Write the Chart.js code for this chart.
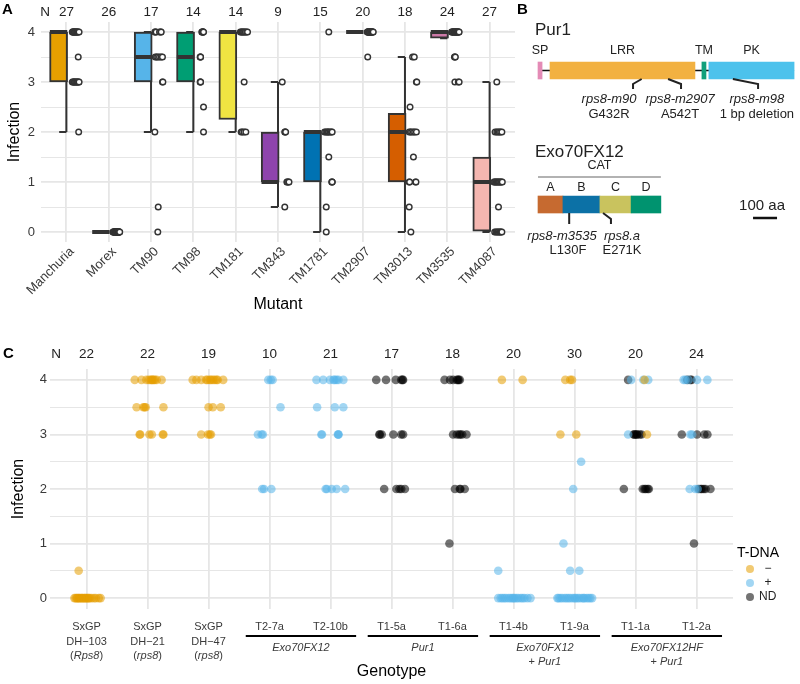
<!DOCTYPE html>
<html>
<head>
<meta charset="utf-8">
<script src="https://cdn.jsdelivr.net/npm/chart.js@4.4.0/dist/chart.umd.min.js"></script>
<style>
  body { margin: 0; background: #fff; width: 800px; height: 684px; position: relative; overflow: hidden; }
  canvas { position: absolute; }
</style>
</head>
<body>
<canvas id="panelA" width="800" height="330" style="left:0;top:0"></canvas>
<canvas id="panelB" width="285" height="300" style="left:515px;top:0"></canvas>
<canvas id="panelC" width="800" height="354" style="left:0;top:330px"></canvas>
<script>
// ---------- panel A: mutants ----------
const mutants = ['Manchuria', 'Morex', 'TM90', 'TM98', 'TM181', 'TM343', 'TM1781', 'TM2907', 'TM3013', 'TM3535', 'TM4087'];
const mutantN = [27, 26, 17, 14, 14, 9, 15, 20, 18, 24, 27];
const boxLow = [3, 0, 3, 3, 2.25, 1, 1, 4, 1, 3.875, 0];
const boxMid = [4, 0, 3.5, 3.5, 4, 1, 2, 4, 2, 4, 1];
const boxHigh = [4, 0, 4, 4, 4, 2, 2, 4, 2.375, 4, 1.5];
const whiskerLow = [2, 0, 2, 2, 2, 0.5, 0, 4, 0, 3.875, 0];
const whiskerHigh = [4, 0, 4, 4, 4, 3, 2, 4, 3.5, 4, 3];
const mutantColors = ['#E69F00', '#8C8C8C', '#56B4E9', '#009E73', '#F0E442', '#8E44AD', '#0072B2', '#8C8C8C', '#D55E00', '#CC79A7', '#F4B6B0'];

// infection score of every plant, and the horizontal jitter
const infectionA = [
  [4,4,4,4,4,4,4,4,4,4,4,4,4,4,3.5,3,3,3,3,3,3,3,3,3,3,3,2],
  [0,0,0,0,0,0,0,0,0,0,0,0,0,0,0,0,0,0,0,0,0,0,0,0,0,0],
  [4,4,4,4,4,4,3.5,3.5,3.5,3.5,3.5,3.5,3,3,2,0.5,0],
  [4,4,4,4,4,4,3.5,3.5,3.5,3,3,3,2.5,2],
  [4,4,4,4,4,4,4,4,4,3,2,2,2,2],
  [3,2,2,2,1,1,1,1,0.5],
  [4,2,2,2,2,2,2,2,2,1.5,1,1,1,0.5,0],
  [4,4,4,4,4,4,4,4,4,4,4,4,4,4,4,4,4,4,4,3.5],
  [3.5,3.5,3,3,2.5,2,2,2,2,2,2,1.5,1,1,1,1,0.5,0],
  [4,4,4,4,4,4,4,4,4,4,4,4,4,4,4,4,4,4,3.5,3.5,3.5,3,3,3],
  [3,2,2,2,2,2,2,1,1,1,1,1,1,1,1,1,1,1,0.5,0,0,0,0,0,0,0,0]
];
const jitterA = [
  [0.14,0.15,0.16,0.17,0.18,0.19,0.2,0.22,0.23,0.24,0.25,0.27,0.28,0.3,0.28,0.14,0.16,0.17,0.19,0.2,0.22,0.24,0.25,0.27,0.29,0.3,0.29],
  [0.1,0.11,0.12,0.12,0.13,0.14,0.15,0.15,0.16,0.17,0.17,0.18,0.18,0.19,0.2,0.2,0.21,0.21,0.22,0.22,0.23,0.24,0.24,0.25,0.25,0.26],
  [0.09,0.1,0.12,0.2,0.23,0.24,0.1,0.13,0.16,0.2,0.24,0.27,0.27,0.28,0.09,0.17,0.16],
  [0.2,0.21,0.22,0.23,0.23,0.24,0.16,0.17,0.17,0.16,0.17,0.17,0.24,0.24],
  [0.11,0.13,0.15,0.17,0.19,0.21,0.23,0.26,0.28,0.2,0.13,0.16,0.2,0.24],
  [0.1,0.16,0.17,0.18,0.21,0.22,0.25,0.26,0.16],
  [0.2,0.1,0.13,0.16,0.18,0.2,0.23,0.26,0.28,0.2,0.27,0.28,0.28,0.14,0.14],
  [0.11,0.12,0.12,0.13,0.14,0.15,0.16,0.16,0.17,0.18,0.19,0.19,0.2,0.21,0.22,0.22,0.23,0.24,0.25,0.12],
  [0.18,0.22,0.27,0.28,0.12,0.1,0.13,0.16,0.2,0.23,0.27,0.2,0.1,0.11,0.25,0.26,0.1,0.14],
  [0.1,0.12,0.12,0.13,0.15,0.16,0.16,0.18,0.19,0.2,0.2,0.21,0.23,0.24,0.25,0.26,0.27,0.28,0.17,0.18,0.19,0.18,0.26,0.28],
  [0.17,0.13,0.17,0.2,0.23,0.26,0.29,0.1,0.12,0.14,0.16,0.18,0.2,0.22,0.24,0.26,0.28,0.3,0.21,0.12,0.15,0.18,0.2,0.23,0.25,0.27,0.29]
];

// ---------- panel B: protein domains (amino acids) ----------
const pur1Domains = ['SP', 'LRR', 'TM', 'PK'];
const pur1Start = [0, 50, 683, 712];
const pur1End = [17, 654, 700, 1067];
const pur1Colors = ['#E48BB6', '#F2B141', '#10A07C', '#4CC2EC'];
const pur1Alleles = ['rps8-m90', 'rps8-m2907', 'rps8-m98'];
const pur1Changes = ['G432R', 'A542T', '1 bp deletion'];
const pur1Sites = [432, 542, 812];

const exoDomains = ['A', 'B', 'C', 'D'];
const exoStart = [0, 104, 258, 388];
const exoEnd = [104, 258, 388, 512];
const exoColors = ['#C66A30', '#0C71A6', '#C9C35E', '#00936F'];
const exoAlleles = ['rps8-m3535', 'rps8.a'];
const exoChanges = ['L130F', 'E271K'];
const exoSites = [130, 271];
const scaleBarAa = 100;

// ---------- panel C: transgenic lines ----------
const genotypes = ['SxGP|DH\u2212103|(*Rps8*)', 'SxGP|DH\u221221|(*rps8*)', 'SxGP|DH\u221247|(*rps8*)',
  'T2-7a', 'T2-10b', 'T1-5a', 'T1-6a', 'T1-4b', 'T1-9a', 'T1-1a', 'T1-2a'];
const genotypeN = [22, 22, 19, 10, 21, 17, 18, 20, 30, 20, 24];
const groupLabels = ['*Exo70FX12*', '*Pur1*', '*Exo70FX12*|+ *Pur1*', '*Exo70FX12HF*|+ *Pur1*'];
const groupFirst = [3, 5, 7, 9];
const groupLast = [4, 6, 8, 10];
const tdnaTypes = ['-', '+', 'N'];
const tdnaNames = ['\u2212', '+', 'ND'];

const infectionC = [
  [0.5,0,0,0,0,0,0,0,0,0,0,0,0,0,0,0,0,0,0,0,0,0],
  [4,4,4,4,4,4,4,4,4,4,4,3.5,3.5,3.5,3.5,3.5,3,3,3,3,3,3],
  [4,4,4,4,4,4,4,4,4,4,4,4,3.5,3.5,3.5,3,3,3,3],
  [4,4,4,3.5,3,3,3,2,2,2],
  [4,4,4,4,4,4,4,4,3.5,3.5,3.5,3,3,3,3,3,2,2,2,2,2],
  [4,4,4,4,4,4,3,3,3,3,3,3,2,2,2,2,2],
  [4,4,4,4,4,4,4,3,3,3,3,3,3,2,2,2,2,1],
  [4,4,0.5,0,0,0,0,0,0,0,0,0,0,0,0,0,0,0,0,0],
  [4,4,4,3,3,2.5,2,1,0.5,0.5,0,0,0,0,0,0,0,0,0,0,0,0,0,0,0,0,0,0,0,0],
  [4,4,4,4,4,3,3,3,3,3,3,3,3,3,2,2,2,2,2,2],
  [4,4,4,4,4,4,4,4,3,3,3,3,3,3,2,2,2,2,2,2,2,2,2,1]
];
const jitterC = [
  [-0.13,-0.2,-0.18,-0.16,-0.15,-0.13,-0.12,-0.1,-0.08,-0.07,-0.05,-0.03,-0.02,0,0.02,0.03,0.05,0.08,0.12,0.15,0.2,0.23],
  [-0.21,-0.1,-0.02,0.02,0.05,0.07,0.08,0.1,0.12,0.15,0.23,-0.18,-0.07,-0.05,-0.03,0.26,-0.13,-0.12,0.03,0.07,0.26,0.25],
  [-0.26,-0.2,-0.12,-0.04,-0.02,0.02,0.04,0.07,0.1,0.13,0.15,0.24,0,0.07,0.2,-0.12,-0.01,0.02,0.04],
  [-0.02,0.02,0.05,0.18,-0.19,-0.13,-0.11,-0.12,-0.09,0.03],
  [-0.23,-0.12,-0.01,0.05,0.07,0.1,0.13,0.21,-0.22,0.07,0.21,-0.15,-0.14,0.12,0.13,0.13,-0.08,-0.06,0.02,0.1,0.24],
  [-0.25,-0.09,0.07,0.16,0.18,0.19,-0.2,-0.19,-0.16,0.03,0.16,0.19,-0.12,0.08,0.13,0.16,0.22],
  [-0.13,-0.04,0.01,0.07,0.09,0.1,0.12,0.01,0.07,0.11,0.13,0.16,0.23,0.04,0.12,0.13,0.2,-0.05],
  [-0.19,0.15,-0.25,-0.25,-0.21,-0.18,-0.15,-0.12,-0.08,-0.05,-0.02,0,0.02,0.05,0.08,0.12,0.15,0.18,0.23,0.28],
  [-0.15,-0.07,-0.04,-0.23,0.03,0.11,-0.02,-0.18,-0.07,0.08,-0.28,-0.26,-0.23,-0.2,-0.16,-0.13,-0.1,-0.07,-0.03,0,0.02,0.05,0.08,0.12,0.15,0.16,0.2,0.23,0.26,0.29],
  [-0.12,-0.07,0.15,0.21,0.13,-0.12,-0.03,-0.02,0,0.02,0.03,0.07,0.1,0.19,-0.19,0.12,0.15,0.17,0.2,0.22],
  [-0.21,-0.18,-0.15,-0.13,-0.1,-0.08,0.01,0.18,-0.24,-0.1,-0.07,0.01,0.13,0.18,-0.11,-0.02,0.02,0.04,0.07,0.09,0.12,0.15,0.23,-0.04]
];
// T-DNA status of each plant: '-' absent, '+' present, 'N' not determined
const tdnaC = [
  '----------------------',
  '----------------------',
  '-------------------',
  '++++++++++',
  '+++++++++++++++++++++',
  'NNNNNNNNNNNNNNNNN',
  'NNNNNNNNNNNNNNNNNN',
  '--++++++++++++++++++',
  '-----+++++++++++++++++++++++++',
  'N+-+++NNNNNNN-NNNNNN',
  '++N+NN++N++NNN+++NNNNNNN'
];

// ---------- shared ----------
const FONT = '"Liberation Sans", Arial, sans-serif';
Chart.defaults.font.family = FONT;
Chart.defaults.animation = false;
const gridMajor = '#E6E6E6';
const tickColor = '#3A3A3A';
const halfSteps = [0, 0.5, 1, 1.5, 2, 2.5, 3, 3.5, 4];

function drawRich(ctx, text, cx, y, size) {
  const parts = text.split('*');
  const fonts = parts.map((p, k) => (k % 2 ? 'italic ' : '') + size + 'px ' + FONT);
  let total = 0;
  const widths = parts.map((p, k) => { ctx.font = fonts[k]; const w = ctx.measureText(p).width; total += w; return w; });
  let x = cx - total / 2;
  ctx.textAlign = 'left';
  parts.forEach((p, k) => { ctx.font = fonts[k]; ctx.fillText(p, x, y); x += widths[k]; });
}

function infectionAxis(width, pad) {
  return {
    type: 'linear', min: -0.2, max: 4.2,
    afterBuildTicks: s => { s.ticks = halfSteps.map(v => ({ value: v })); },
    afterFit: s => { s.width = width; },
    ticks: { autoSkip: false, padding: pad, color: tickColor, font: { size: 13 },
      callback: v => (Number.isInteger(v) ? v : '') },
    grid: { drawTicks: false, color: gridMajor,
      lineWidth: c => (Number.isInteger(c.tick.value) ? 1.8 : 1) },
    border: { display: false }
  };
}
function categoryAxis(count, height) {
  return {
    type: 'linear', min: -0.6, max: count - 0.4, offset: false,
    afterBuildTicks: s => { s.ticks = Array.from({ length: count }, (_, i) => ({ value: i })); },
    afterFit: s => { s.height = height; },
    ticks: { display: false },
    grid: { drawTicks: false, color: gridMajor, lineWidth: 1.8, offset: false },
    border: { display: false }
  };
}

// ---------- panel A chart ----------
const boxWidth = 0.37;
const capWidth = 0.17;
const whiskerData = [];
const medianData = [];
const pointsA = [];
mutants.forEach((m, i) => {
  whiskerData.push({ x: i, y: whiskerLow[i] }, { x: i, y: whiskerHigh[i] }, { x: i, y: null });
  whiskerData.push({ x: i - capWidth, y: whiskerLow[i] }, { x: i, y: whiskerLow[i] }, { x: i, y: null });
  whiskerData.push({ x: i - capWidth, y: whiskerHigh[i] }, { x: i, y: whiskerHigh[i] }, { x: i, y: null });
  medianData.push({ x: i - boxWidth - 0.02, y: boxMid[i] }, { x: i + 0.02, y: boxMid[i] }, { x: i, y: null });
  infectionA[i].forEach((v, j) => pointsA.push({ x: i + jitterA[i][j], y: v }));
});

const panelAText = {
  id: 'panelAText',
  afterDraw(chart) {
    const { ctx, chartArea: area } = chart;
    const x = chart.scales.x;
    ctx.save();
    ctx.textBaseline = 'middle';
    ctx.fillStyle = '#000';
    ctx.font = 'bold 15px ' + FONT;
    ctx.textAlign = 'left';
    ctx.fillText('A', 2, 10);
    ctx.fillStyle = '#222';
    ctx.font = '13.5px ' + FONT;
    ctx.textAlign = 'center';
    ctx.fillText('N', 45, 12);
    mutantN.forEach((n, i) => ctx.fillText(n, x.getPixelForValue(i), 12));
    ctx.fillStyle = tickColor;
    ctx.font = '13px ' + FONT;
    ctx.textAlign = 'right';
    ctx.textBaseline = 'top';
    mutants.forEach((m, i) => {
      ctx.save();
      ctx.translate(x.getPixelForValue(i) + 1, area.bottom + 3);
      ctx.rotate(-Math.PI / 4);
      ctx.fillText(m, 0, 0);
      ctx.restore();
    });
    ctx.fillStyle = '#000';
    ctx.font = '16px ' + FONT;
    ctx.textAlign = 'center';
    ctx.textBaseline = 'middle';
    ctx.fillText('Mutant', (area.left + area.right) / 2, 305);
    ctx.translate(15, (area.top + area.bottom) / 2);
    ctx.rotate(-Math.PI / 2);
    ctx.fillText('Infection', 0, 0);
    ctx.restore();
  }
};

new Chart(document.getElementById('panelA'), {
  type: 'scatter',
  data: {
    datasets: [
      { type: 'scatter', order: 1, data: pointsA, pointRadius: 2.8, pointBorderWidth: 1.4,
        pointBorderColor: '#333', pointBackgroundColor: '#fff' },
      { type: 'line', order: 2, data: medianData, borderColor: '#333', borderWidth: 4,
        pointRadius: 0, spanGaps: false, borderCapStyle: 'butt' },
      { type: 'bar', order: 3, data: mutants.map((m, i) => ({ x: i - boxWidth / 2, y: [boxLow[i], boxHigh[i]] })),
        backgroundColor: mutantColors, borderColor: '#333', borderWidth: 2, borderSkipped: false,
        barThickness: 18, grouped: false },
      { type: 'line', order: 4, data: whiskerData, borderColor: '#333', borderWidth: 2,
        pointRadius: 0, spanGaps: false, borderCapStyle: 'butt' }
    ]
  },
  options: {
    responsive: false, events: [],
    layout: { padding: { top: 22, right: 285, left: 0, bottom: 0 } },
    plugins: { legend: { display: false }, tooltip: { enabled: false } },
    scales: { x: categoryAxis(mutants.length, 88), y: infectionAxis(41, 6) }
  },
  plugins: [panelAText]
});

// ---------- panel B chart ----------
const pur1Row = 70.5, exoRow = 204.5, catRow = 177, barRow = 218;
const pur1Pointer = [396, 596, 917];
const pur1LabelAt = [296, 592, 912];
const exoPointer = [130, 304];
const exoNameAt = [100, 350];
const exoChangeAt = [125, 350];
const scaleBarStart = 896;

const domainBars = [];
const domainColors = [];
pur1Domains.forEach((d, i) => { domainBars.push({ y: pur1Row, x: [pur1Start[i], pur1End[i]] }); domainColors.push(pur1Colors[i]); });
exoDomains.forEach((d, i) => { domainBars.push({ y: exoRow, x: [exoStart[i], exoEnd[i]] }); domainColors.push(exoColors[i]); });

const pointerLines = [];
pur1Sites.forEach((s, i) => pointerLines.push({ x: s, y: 79 }, { x: pur1Pointer[i], y: 84 }, { x: pur1Pointer[i], y: 89 }, { x: s, y: null }));
exoSites.forEach((s, i) => pointerLines.push({ x: s, y: 213 }, { x: exoPointer[i], y: 219 }, { x: exoPointer[i], y: 224 }, { x: s, y: null }));

const panelBText = {
  id: 'panelBText',
  afterDraw(chart) {
    const { ctx } = chart;
    const x = chart.scales.x, y = chart.scales.y;
    ctx.save();
    ctx.textBaseline = 'middle';
    ctx.fillStyle = '#000';
    ctx.font = 'bold 15px ' + FONT;
    ctx.textAlign = 'left';
    ctx.fillText('B', 2, 10);
    ctx.fillStyle = '#222';
    ctx.font = '17px ' + FONT;
    ctx.fillText('Pur1', x.getPixelForValue(0) - 3, y.getPixelForValue(30));
    ctx.fillText('Exo70FX12', x.getPixelForValue(0) - 3, y.getPixelForValue(152));
    ctx.font = '12.5px ' + FONT;
    ctx.textAlign = 'center';
    pur1Domains.forEach((d, i) => ctx.fillText(d, x.getPixelForValue((pur1Start[i] + pur1End[i]) / 2), y.getPixelForValue(51)));
    exoDomains.forEach((d, i) => ctx.fillText(d, x.getPixelForValue((exoStart[i] + exoEnd[i]) / 2), y.getPixelForValue(188)));
    ctx.fillText('CAT', x.getPixelForValue(exoEnd[3] / 2), y.getPixelForValue(166));
    pur1Alleles.forEach((a, i) => {
      drawRich(ctx, '*' + a + '*', x.getPixelForValue(pur1LabelAt[i]), y.getPixelForValue(99), 13);
      ctx.textAlign = 'center';
      ctx.font = '13px ' + FONT;
      ctx.fillText(pur1Changes[i], x.getPixelForValue(pur1LabelAt[i]), y.getPixelForValue(114));
    });
    exoAlleles.forEach((a, i) => {
      drawRich(ctx, '*' + a + '*', x.getPixelForValue(exoNameAt[i]), y.getPixelForValue(236), 13);
      ctx.textAlign = 'center';
      ctx.font = '13px ' + FONT;
      ctx.fillText(exoChanges[i], x.getPixelForValue(exoChangeAt[i]), y.getPixelForValue(250));
    });
    ctx.font = '15px ' + FONT;
    ctx.fillText(scaleBarAa + ' aa', x.getPixelForValue(scaleBarStart + scaleBarAa / 2) - 3, y.getPixelForValue(206));
    ctx.restore();
  }
};

new Chart(document.getElementById('panelB'), {
  type: 'scatter',
  data: {
    datasets: [
      { type: 'line', order: 1, data: pointerLines, borderColor: '#222', borderWidth: 2, pointRadius: 0, spanGaps: false },
      { type: 'bar', order: 2, indexAxis: 'y', data: domainBars, backgroundColor: domainColors,
        borderWidth: 0, barThickness: 17, grouped: false },
      { type: 'line', order: 3, pointRadius: 0, borderColor: '#111', borderWidth: 1.5,
        data: [{ x: pur1Start[0], y: pur1Row }, { x: pur1End[3], y: pur1Row }] },
      { type: 'line', order: 3, pointRadius: 0, borderColor: '#666', borderWidth: 1.2,
        data: [{ x: exoStart[0], y: catRow }, { x: exoEnd[3], y: catRow }] },
      { type: 'line', order: 3, pointRadius: 0, borderColor: '#111', borderWidth: 2.5,
        data: [{ x: scaleBarStart, y: barRow }, { x: scaleBarStart + scaleBarAa, y: barRow }] }
    ]
  },
  options: {
    responsive: false, events: [],
    layout: { padding: 0, autoPadding: false },
    plugins: { legend: { display: false }, tooltip: { enabled: false } },
    scales: {
      x: { type: 'linear', display: false, offset: false, min: -95.8, max: 1091.7 },
      y: { type: 'linear', display: false, offset: false, min: 0, max: 300, reverse: true }
    }
  },
  plugins: [panelBText]
});

// ---------- panel C chart ----------
const tdnaColors = ['rgba(230,159,0,0.55)', 'rgba(86,180,233,0.55)', 'rgba(0,0,0,0.55)'];
const pointsC = tdnaTypes.map(() => []);
infectionC.forEach((vals, i) => vals.forEach((v, j) => {
  pointsC[tdnaTypes.indexOf(tdnaC[i][j])].push({ x: i + jitterC[i][j], y: v });
}));

const panelCText = {
  id: 'panelCText',
  afterDraw(chart) {
    const { ctx, chartArea: area } = chart;
    const x = chart.scales.x;
    ctx.save();
    ctx.textBaseline = 'middle';
    ctx.fillStyle = '#000';
    ctx.font = 'bold 15px ' + FONT;
    ctx.textAlign = 'left';
    ctx.fillText('C', 3, 24);
    ctx.fillStyle = '#222';
    ctx.font = '13.5px ' + FONT;
    ctx.textAlign = 'center';
    ctx.fillText('N', 56, 24);
    genotypeN.forEach((n, i) => ctx.fillText(n, x.getPixelForValue(i), 24));
    ctx.fillStyle = tickColor;
    genotypes.forEach((g, i) => {
      g.split('|').forEach((line, k) => drawRich(ctx, line, x.getPixelForValue(i), 297 + k * 14.5, 11));
    });
    groupLabels.forEach((g, i) => {
      const x0 = x.getPixelForValue(groupFirst[i] - 0.39), x1 = x.getPixelForValue(groupLast[i] + 0.42);
      ctx.strokeStyle = '#000';
      ctx.lineWidth = 2;
      ctx.beginPath(); ctx.moveTo(x0, 306); ctx.lineTo(x1, 306); ctx.stroke();
      g.split('|').forEach((line, k) => drawRich(ctx, line, (x0 + x1) / 2, 318 + k * 13.5, 11));
    });
    ctx.fillStyle = '#000';
    ctx.font = '16px ' + FONT;
    ctx.textAlign = 'center';
    ctx.fillText('Genotype', (area.left + area.right) / 2, 342);
    // legend
    ctx.textAlign = 'left';
    ctx.font = '14px ' + FONT;
    ctx.fillText('T-DNA', 737, 223);
    tdnaNames.forEach((t, k) => {
      const yy = 239 + k * 14;
      ctx.fillStyle = tdnaColors[k];
      ctx.beginPath(); ctx.arc(750, yy, 4, 0, Math.PI * 2); ctx.fill();
      ctx.fillStyle = '#222';
      ctx.font = '12px ' + FONT;
      if (k < 2) { ctx.textAlign = 'center'; ctx.fillText(t, 768, yy); }
      else { ctx.textAlign = 'left'; ctx.fillText(t, 759, yy); }
    });
    ctx.translate(19, (area.top + area.bottom) / 2);
    ctx.rotate(-Math.PI / 2);
    ctx.fillStyle = '#000';
    ctx.font = '16px ' + FONT;
    ctx.textAlign = 'center';
    ctx.fillText('Infection', 0, 0);
    ctx.restore();
  }
};

new Chart(document.getElementById('panelC'), {
  type: 'scatter',
  data: {
    datasets: pointsC.map((pts, k) => ({
      type: 'scatter', data: pts, pointRadius: 4.3, pointBorderWidth: 0,
      pointBackgroundColor: tdnaColors[k], pointBorderColor: 'rgba(0,0,0,0)'
    }))
  },
  options: {
    responsive: false, events: [],
    layout: { padding: { top: 39, right: 67, left: 0, bottom: 0 } },
    plugins: { legend: { display: false }, tooltip: { enabled: false } },
    scales: { x: categoryAxis(genotypes.length, 75), y: infectionAxis(50, 3) }
  },
  plugins: [panelCText]
});
</script>
</body>
</html>
